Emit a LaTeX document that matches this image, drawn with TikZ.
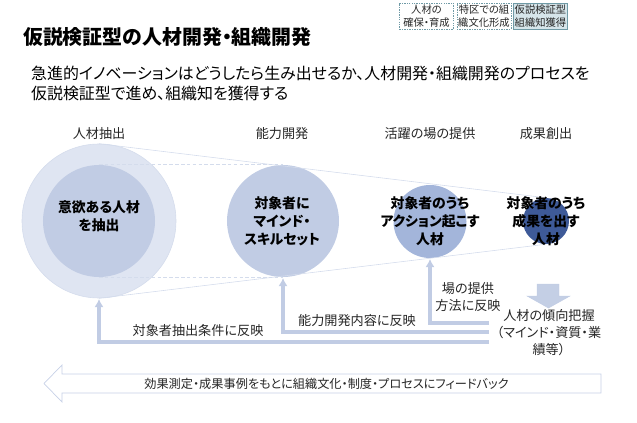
\documentclass[tikz,border=0pt]{standalone}
\usepackage{xcolor}
\usepackage{fontspec}
\setmainfont[RawFeature=+palt]{Noto Sans CJK JP}
\usepackage{tikz}
\usetikzlibrary{arrows.meta}

\definecolor{paleblue}{HTML}{DFE5F2}
\definecolor{midblue}{HTML}{C1CCE4}
\definecolor{stepblue}{HTML}{A3B5DA}
\definecolor{darkblue}{HTML}{3E5A98}
\definecolor{coneline}{HTML}{D4DCEC}
\definecolor{tabline}{HTML}{6F9AA6}
\definecolor{tabfill}{HTML}{D6E5EA}

\tikzset{
  disc/.style={circle, inner sep=0pt, draw=none},
  disclabel/.style={align=center, font=\fontsize{11.8}{15.2}\selectfont\bfseries, text=black},
  caption/.style={align=center, font=\fontsize{11.2}{14.6}\selectfont, text=black!85},
  tabbox/.style={draw=tabline, dash pattern=on 1.2pt off 0.9pt, line width=0.4pt, minimum width=1.62cm, minimum height=0.78cm, inner sep=0pt, align=center, font=\fontsize{8.8}{10.6}\selectfont, text=black!85},
  feedback/.style={draw=midblue, line width=2.6pt, -{Latex[length=7pt,width=8pt]}},
  cone/.style={draw=coneline, line width=0.5pt}
}

\begin{document}
\begin{tikzpicture}[x=0.03cm,y=-0.03cm]
\useasboundingbox (0,0) rectangle (637,423);

% Riquadri in alto
\node[tabbox] (tabA) at (426.5,16) {人材の\\確保・育成};
\node[tabbox] (tabB) at (484,16) {特区での組\\織文化形成};
\node[tabbox, fill=tabfill, solid] (tabC) at (540.5,16) {仮説検証型\\組織知獲得};

% Titolo
\node[anchor=west, font=\fontsize{17}{20}\selectfont\bfseries] (title) at (19,37) {仮説検証型の人材開発・組織開発};
\node[anchor=north west, align=left, font=\fontsize{13.6}{16.6}\selectfont] (lead) at (27,62) {急進的イノベーションはどうしたら生み出せるか、人材開発・組織開発のプロセスを\\仮説検証型で進め、組織知を獲得する};

% Fasi
\node[caption] (capA) at (99,134) {人材抽出};
\node[caption] (capB) at (282,134) {能力開発};
\node[caption] (capC) at (430,134) {活躍の場の提供};
\node[caption] (capD) at (546,134) {成果創出};

% Cerchi
\node[disc, fill=paleblue, draw=coneline, line width=0.5pt, minimum size=4.62cm] (outer) at (99,221) {};
\node[disc, fill=midblue, minimum size=3.36cm] (discA) at (99,221) {};
\node[disc, fill=midblue, minimum size=3.36cm] (discB) at (283,221) {};
\node[disc, fill=stepblue, minimum size=2.19cm] (discC) at (430,221.5) {};
\node[disc, fill=darkblue, minimum size=1.38cm] (discD) at (546,221) {};

% Cono
\draw[cone] (outer.north) -- (discD.north);
\draw[cone] (outer.south) -- (discD.south);
\draw[cone, densely dashed] (discA.north) -- (discB.north);
\draw[cone, densely dashed] (discA.south) -- (discB.south);

\node[disclabel] (textA) at (99,216) {意欲ある人材\\を抽出};
\node[disclabel] (textB) at (282,221.5) {対象者に\\マインド・\\スキルセット};
\node[disclabel] (textC) at (430,221.5) {対象者のうち\\アクション起こす\\人材};
\node[disclabel] (textD) at (546,221.5) {対象者のうち\\成果を出す\\人材};

% Frecce
\coordinate (startA) at (489,342);
\coordinate (startB) at (489,332);
\coordinate (startC) at (489,323);
\coordinate (tipA) at (99,299);
\coordinate (tipB) at (283,278);
\coordinate (tipC) at (430,259);
\draw[feedback] (startA) -| (tipA);
\draw[feedback] (startB) -| (tipB);
\draw[feedback] (startC) -| (tipC);

\node[caption] (refA) at (198,331) {対象者抽出条件に反映};
\node[caption] (refB) at (357,320.5) {能力開発内容に反映};
\node[caption] (refC) at (468,297) {場の提供\\方法に反映};

% Freccia giu
\filldraw[draw=midblue, fill=midblue!95!white] (537,284) -- (559,284) -- (559,296) -- (570,296) -- (548.5,308) -- (527,296) -- (537,296) -- cycle;
\node[caption] (trend) at (549,332.5) {人材の傾向把握\\（マインド・資質・業\\績等）};

% Freccia in basso
\draw[draw=midblue!90!white, fill=white, line width=0.6pt] (601,374) -- (62,374) -- (62,365) -- (44,383.5) -- (62,402) -- (62,393) -- (601,393) -- cycle;
\node[font=\fontsize{10.4}{12}\selectfont, text=black!85] (back) at (326.5,383.5) {効果測定・成果事例をもとに組織文化・制度・プロセスにフィードバック};

\end{tikzpicture}
\end{document}
